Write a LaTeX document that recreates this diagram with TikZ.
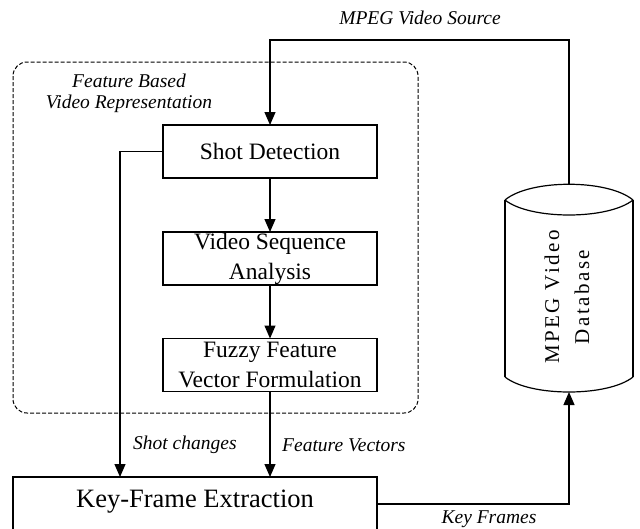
\documentclass[tikz,border=0pt]{standalone}
\usepackage{fontspec}
\setmainfont{Liberation Serif}
\newfontfamily\dbfont[LetterSpace=12]{Liberation Serif}
\usetikzlibrary{arrows.meta}
\begin{document}
\begin{tikzpicture}[x=1pt,y=-1pt,
  box/.style={draw, line width=1.4pt, minimum width=214pt, minimum height=53pt,
    inner sep=0pt, outer sep=0pt, align=center, font=\fontsize{23.5}{30}\selectfont},
  lbl/.style={font=\fontsize{19.5}{21}\selectfont\itshape, inner sep=0pt, align=center},
  conn/.style={line width=1.2pt, -{Triangle[length=13pt,width=11pt]}},
  cyl/.style={line width=1.2pt}]
\useasboundingbox (0,0) rectangle (640,528);

% dashed group
\draw[dash pattern=on 4pt off 2pt, line width=1pt, rounded corners=14pt] (13,62) rectangle (418,413);
\node[lbl] (grp) at (129,93) {Feature Based\\Video Representation};

% boxes
\node[box] (sd) at (270,151.5) {Shot Detection};
\node[box] (vs) at (270,258.5) {Video Sequence\\Analysis};
\node[box] (ff) at (270,365) {Fuzzy Feature\\Vector Formulation};
\node[box, minimum width=364pt, minimum height=58pt, font=\fontsize{26.5}{30}\selectfont] (kf) at (195,506) {};
\node[font=\fontsize{26.5}{30}\selectfont, inner sep=0pt] (kft) at (195,502) {Key-Frame Extraction};

% database cylinder
\draw[cyl] (505,200) .. controls (530,179) and (608,179) .. (633,200);
\draw[cyl] (505,200) .. controls (530,220) and (608,220) .. (633,200);
\draw[cyl] (505,200) -- (505,377);
\draw[cyl] (633,200) -- (633,377);
\draw[cyl] (505,377) .. controls (530,397) and (608,397) .. (633,377);
\coordinate (dbtop) at (569,184);
\coordinate (dbbot) at (569,392);
\node[rotate=90, align=center, inner sep=0pt, font=\dbfont\fontsize{21}{30}\selectfont] (db) at (567,297) {MPEG Video\\Database};

% connectors
\coordinate (src) at (270,40);
\draw[conn] (dbtop) |- (src) -- (sd.north);
\node[lbl] (srcl) at (420,18) {MPEG Video Source};
\draw[conn] (sd) -- (vs);
\draw[conn] (vs) -- (ff);
\coordinate (sc) at (120,151.5);
\draw[conn] (sd.west) -- (sc) -- (sc |- kf.north);
\draw[conn] (ff.south) -- (ff.south |- kf.north);
\node[lbl, anchor=west] (scl) at (133,445) {Shot changes};
\node[lbl, anchor=west] (fvl) at (282,445) {Feature Vectors};
\coordinate (kfo) at (377,504);
\draw[conn] (kfo) -| (dbbot);
\node[lbl] (kfl) at (489,519) {Key Frames};
\end{tikzpicture}
\end{document}
